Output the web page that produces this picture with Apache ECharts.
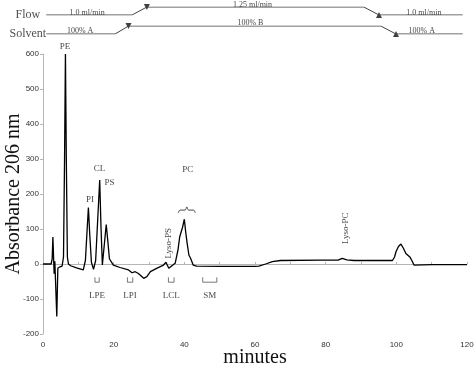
<!DOCTYPE html>
<html>
<head>
<meta charset="utf-8">
<script src="https://cdn.jsdelivr.net/npm/echarts@6/dist/echarts.min.js"></script>
<style>
  html, body { margin: 0; padding: 0; background: #fff; }
  #chart { width: 474px; height: 367px; }
</style>
</head>
<body>
<div id="chart"></div>
<script>
// chromatogram trace (minutes, absorbance at 206 nm)
const traceTime = [
  0, 2.3, 2.6, 2.8, 3.0, 3.15, 3.35, 3.6, 3.9, 4.2, 4.8, 5.4,
  5.8, 6.1, 6.35, 6.6, 6.9, 7.2, 7.5, 7.8, 9.5, 11.4,
  12.0, 12.5, 12.85, 13.2, 13.7, 14.3, 14.9, 15.5, 16.05, 16.4, 16.8,
  17.3, 17.9, 18.3, 18.8, 19.9, 21.8, 24.2, 25.2, 26.1, 27.0, 28.5,
  29.4, 30.4, 32.3, 34.1, 34.8, 35.6, 36.5, 37.4, 38.2, 38.7, 39.1,
  39.5, 40.0, 40.4, 40.8, 41.3, 41.7, 42.1, 42.5, 43.5, 50, 60,
  61.1, 63, 64.9, 67.2, 78.6, 83.5, 84.7, 86, 88, 98.9, 99.5,
  99.9, 100.6, 101.3, 102, 102.7, 103.9, 104.5, 105, 110, 120
];
const traceAbs = [
  0, 0, 15, 77, 72, -28, 8, 5, -150, -12, -8, -6,
  20, 300, 600, 300, 20, 0, 5, -5, -11, -17,
  10, 100, 161, 90, 5, -15, 10, 130, 240, 110, -3,
  50, 113, 70, 15, -3, -10, -17, -25, -22, -27, -41,
  -36, -22, -12, -3, 5, -12, -5, 2, 40, 78, 83,
  105, 128, 90, 59, 25, 18, 8, -3, -6, -7, -7,
  -6, 0, 7, 10, 11, 11, 16, 12, 10, 10, 20,
  35, 50, 57, 45, 30, 19, 8, -3, -2, -2
];

// gradient program at the top
const flowTime = [0.9, 25.2, 29.4, 90.8, 95.1, 118.8];
const flowRate = [1.0, 1.0, 1.25, 1.25, 1.0, 1.0];
const solventTime = [0.9, 20.4, 24.2, 95.6, 99.9, 118.8];
const solventB = [0, 0, 100, 100, 0, 0];
const flowLabels = ["1.0 ml/min", "1.25 ml/min", "1.0 ml/min"];
const flowLabelTime = [12.5, 59.3, 107.8];
const flowLabelRate = [1.0, 1.25, 1.0];
const solventLabels = ["100% A", "100% B", "100% A"];
const solventLabelTime = [10.5, 58.7, 107.2];
const solventLabelB = [0, 100, 0];

// peak names
const peakNames = ["PE", "PI", "CL", "PS", "Lyso-PS", "PC", "Lyso-PC"];
const peakLabelTime = [6.2, 13.3, 16.0, 18.8, 35.5, 41.0, 85.7];
const peakLabelAbs = [620, 183, 273, 232, 59, 270, 102];

// lyso fractions marked below the baseline
const fracNames = ["LPE", "LPI", "LCL", "SM"];
const fracStart = [14.7, 23.9, 35.5, 45.2];
const fracEnd = [15.9, 25.4, 37.1, 49.2];

// brace over PC
const braceTime = [38.3, 38.8, 40.2, 40.7, 41.2, 42.6, 43.1];
const braceAbs = [146, 154, 154, 163, 154, 154, 146];

const yTicks = [-200, 600, 100];
const xTicks = [0, 120, 20];

const serif = "Liberation Serif";
const sans = "Liberation Sans";
const ink = "#111";

const zip = (a, b) => a.map((v, i) => [v, b[i]]);

const chart = echarts.init(document.getElementById("chart"));

const fracSeries = fracNames.map((n, i) => ({
  type: "line",
  xAxisIndex: 0,
  yAxisIndex: 0,
  symbol: "none",
  silent: true,
  lineStyle: { color: "#555", width: 0.8 },
  data: [
    [fracStart[i], -38],
    [fracStart[i], -52],
    [fracEnd[i], -52],
    [fracEnd[i], -38],
  ],
}));

const option = {
  animation: false,
  backgroundColor: "#fff",
  grid: [
    { left: 43, right: 7, top: 54, bottom: 33, outerBoundsMode: "none" },
    { left: 43, right: 7, top: 7, height: 8, outerBoundsMode: "none" },
    { left: 43, right: 7, top: 26, height: 8, outerBoundsMode: "none" },
  ],
  xAxis: [
    {
      type: "value",
      gridIndex: 0,
      min: xTicks[0],
      max: xTicks[1],
      interval: 10,
      axisLine: { onZero: true, lineStyle: { color: "#b5b5b5", width: 1 } },
      axisTick: { show: true, inside: true, length: 2, lineStyle: { color: "#b5b5b5" } },
      axisLabel: { show: false },
      splitLine: { show: false },
    },
    {
      type: "value",
      gridIndex: 0,
      position: "bottom",
      min: xTicks[0],
      max: xTicks[1],
      interval: xTicks[2],
      axisLine: { show: false, onZero: false },
      axisTick: { show: false },
      axisLabel: { color: "#333", fontFamily: sans, fontSize: 8, margin: 7 },
      splitLine: { show: false },
      name: "minutes",
      nameLocation: "middle",
      nameGap: 14,
      nameMoveOverlap: false,
      nameTextStyle: { fontFamily: serif, fontSize: 20, color: ink },
    },
    { type: "value", gridIndex: 1, min: 0, max: 120, show: false },
    { type: "value", gridIndex: 2, min: 0, max: 120, show: false },
  ],
  yAxis: [
    {
      type: "value",
      gridIndex: 0,
      min: yTicks[0],
      max: yTicks[1],
      interval: yTicks[2],
      axisLine: { show: true, onZero: false, lineStyle: { color: "#b5b5b5", width: 1 } },
      axisTick: { show: true, length: 3, lineStyle: { color: "#b5b5b5" } },
      axisLabel: { color: "#333", fontFamily: sans, fontSize: 8, margin: 4 },
      splitLine: { show: false },
      name: "Absorbance 206 nm",
      nameLocation: "middle",
      nameGap: 19,
      nameMoveOverlap: false,
      nameTextStyle: { fontFamily: serif, fontSize: 20, color: ink },
    },
    { type: "value", gridIndex: 1, min: 1.0, max: 1.25, show: false },
    { type: "value", gridIndex: 2, min: 0, max: 100, show: false },
  ],
  series: [
    {
      name: "Absorbance",
      type: "line",
      xAxisIndex: 0,
      yAxisIndex: 0,
      symbol: "none",
      clip: false,
      lineStyle: { color: "#000", width: 1.3 },
      data: zip(traceTime, traceAbs),
    },
    ...fracSeries,
    {
      name: "brace",
      type: "line",
      xAxisIndex: 0,
      yAxisIndex: 0,
      symbol: "none",
      smooth: 0.4,
      lineStyle: { color: "#333", width: 0.9 },
      data: zip(braceTime, braceAbs),
    },
    {
      name: "fraction labels",
      type: "scatter",
      xAxisIndex: 0,
      yAxisIndex: 0,
      symbolSize: 0,
      clip: false,
      label: {
        show: true,
        position: "inside",
        fontFamily: serif,
        fontSize: 9,
        color: ink,
        formatter: (p) => fracNames[p.dataIndex],
      },
      data: fracNames.map((n, i) => [(fracStart[i] + fracEnd[i]) / 2, -89]),
    },
    {
      name: "peak labels",
      type: "scatter",
      xAxisIndex: 0,
      yAxisIndex: 0,
      symbolSize: 0,
      clip: false,
      label: {
        show: true,
        position: "inside",
        fontFamily: serif,
        fontSize: 9,
        color: ink,
        formatter: (p) => peakNames[p.dataIndex],
      },
      data: peakNames.map((n, i) => ({
        value: [peakLabelTime[i], peakLabelAbs[i]],
        label: n.startsWith("Lyso") ? { rotate: 90 } : {},
      })),
    },
    // flow program
    {
      name: "Flow",
      type: "line",
      xAxisIndex: 2,
      yAxisIndex: 1,
      symbol: "none",
      lineStyle: { color: "#444", width: 1 },
      data: zip(flowTime, flowRate),
    },
    {
      type: "scatter",
      xAxisIndex: 2,
      yAxisIndex: 1,
      symbol: "triangle",
      symbolSize: 6,
      itemStyle: { color: "#111" },
      data: [
        { value: [flowTime[2], flowRate[2]], symbolRotate: 180 },
        { value: [flowTime[4], flowRate[4]] },
      ],
    },
    {
      type: "scatter",
      xAxisIndex: 2,
      yAxisIndex: 1,
      symbolSize: 0,
      clip: false,
      label: {
        show: true,
        position: "top",
        distance: 1,
        offset: [0, 2.5],
        fontFamily: serif,
        fontSize: 8,
        color: ink,
        formatter: (p) => p.data.text,
      },
      data: flowLabels.map((t, i) => ({ value: [flowLabelTime[i], flowLabelRate[i]], text: t })),
    },
    {
      type: "scatter",
      xAxisIndex: 2,
      yAxisIndex: 1,
      symbolSize: 0,
      clip: false,
      label: {
        show: true,
        position: "left",
        distance: 6,
        fontFamily: serif,
        fontSize: 12,
        color: "#222",
        formatter: "Flow",
      },
      data: [[flowTime[0], flowRate[0]]],
    },
    // solvent program
    {
      name: "Solvent",
      type: "line",
      xAxisIndex: 3,
      yAxisIndex: 2,
      symbol: "none",
      lineStyle: { color: "#444", width: 1 },
      data: zip(solventTime, solventB),
    },
    {
      type: "scatter",
      xAxisIndex: 3,
      yAxisIndex: 2,
      symbol: "triangle",
      symbolSize: 6,
      itemStyle: { color: "#111" },
      data: [
        { value: [solventTime[2], solventB[2]], symbolRotate: 180 },
        { value: [solventTime[4], solventB[4]] },
      ],
    },
    {
      type: "scatter",
      xAxisIndex: 3,
      yAxisIndex: 2,
      symbolSize: 0,
      clip: false,
      label: {
        show: true,
        position: "top",
        distance: 1,
        offset: [0, 1.5],
        fontFamily: serif,
        fontSize: 8,
        color: ink,
        formatter: (p) => p.data.text,
      },
      data: solventLabels.map((t, i) => ({ value: [solventLabelTime[i], solventLabelB[i]], text: t })),
    },
    {
      type: "scatter",
      xAxisIndex: 3,
      yAxisIndex: 2,
      symbolSize: 0,
      clip: false,
      label: {
        show: true,
        position: "left",
        distance: 0,
        fontFamily: serif,
        fontSize: 12,
        color: "#222",
        formatter: "Solvent",
      },
      data: [[solventTime[0], solventB[0]]],
    },
  ],
};

chart.setOption(option);
window.addEventListener("resize", () => chart.resize());
</script>
</body>
</html>
